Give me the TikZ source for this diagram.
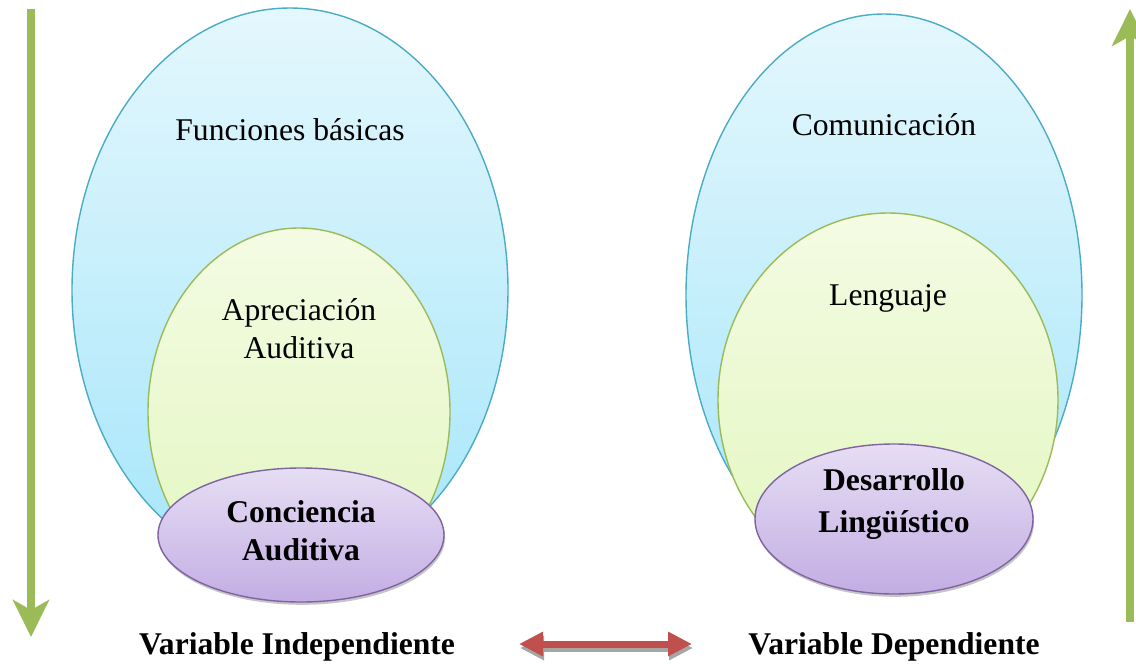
\documentclass[tikz,border=0pt]{standalone}
\usepackage{fontspec}
\setmainfont{Liberation Serif}
\usetikzlibrary{arrows.meta,shadows}
\definecolor{skyline}{HTML}{4BACC6}
\definecolor{skytop}{HTML}{E4F7FD}
\definecolor{skybot}{HTML}{A6E6FA}
\definecolor{limeline}{HTML}{9BBB59}
\definecolor{limetop}{HTML}{F4FBE3}
\definecolor{limebot}{HTML}{E2F7C0}
\definecolor{lilacline}{HTML}{8064A2}
\definecolor{lilactop}{HTML}{E6DEF4}
\definecolor{lilacbot}{HTML}{C3ADE3}
\definecolor{arrowgreen}{HTML}{9BBB59}
\definecolor{arrowred}{HTML}{C0504D}
\tikzset{
  outer/.style={draw=skyline, line width=0.8pt, top color=skytop, bottom color=skybot},
  inner/.style={draw=limeline, line width=0.8pt, top color=limetop, bottom color=limebot},
  core/.style={draw=lilacline, line width=0.8pt, top color=lilactop, bottom color=lilacbot,
    drop shadow={shadow xshift=0.6pt, shadow yshift=-1.6pt, opacity=0.45}},
  label/.style={align=center},
  corelabel/.style={align=center, font=\fontsize{18}{21.6}\selectfont\bfseries},
  varlabel/.style={font=\fontsize{18}{21.6}\selectfont\bfseries},
  green arrow/.style={draw=arrowgreen, line width=0.17cm,
    -{Stealth[length=0.74cm, width=0.72cm, inset=0.2cm]}},
  red arrow/.style={draw=arrowred, line width=0.14cm,
    {Triangle[length=0.48cm, width=0.46cm]}-{Triangle[length=0.48cm, width=0.46cm]}}
}
\begin{document}
\begin{tikzpicture}[x=0.02cm, y=-0.02cm, font=\fontsize{18}{21.6}\selectfont]
  \useasboundingbox (0,0) rectangle (1136,666);
  % left side
  \draw[outer] (290,290) ellipse [x radius=218, y radius=282];
  \draw[inner] (299,412) ellipse [x radius=151, y radius=184];
  \draw[core] (301,535) ellipse [x radius=143, y radius=67];
  \node[label] (basicas) at (290,130) {Funciones básicas};
  \node[label] (apreciacion) at (299,329) {Apreciación\\Auditiva};
  \node[corelabel] (conciencia) at (301,531) {Conciencia\\Auditiva};
  % right side
  \draw[outer] (884,295) ellipse [x radius=198, y radius=281];
  \draw[inner] (888,400) ellipse [x radius=170, y radius=187];
  \draw[core] (894,519) ellipse [x radius=139, y radius=75];
  \node[label] (comunicacion) at (884,125) {Comunicación};
  \node[label] (lenguaje) at (888,298) {Lenguaje};
  \node[corelabel] (desarrollo) at (894,504) {Desarrollo\\[2pt]Lingüístico};
  % variables
  \node[varlabel] (indep) at (297,647) {Variable Independiente};
  \node[varlabel] (dep) at (894,647) {Variable Dependiente};
  % arrows
  \coordinate (downstart) at (31,9);
  \coordinate (downend) at (31,637);
  \coordinate (upstart) at (1130,622);
  \coordinate (upend) at (1130,9);
  \coordinate (linkleft) at (519,644);
  \coordinate (linkright) at (692,644);
  \draw[green arrow] (downstart) -- (downend);
  \draw[green arrow] (upstart) -- (upend);
  \draw[red arrow, draw=black!35] ([shift={(1,4)}]linkleft) -- ([shift={(1,4)}]linkright);
  \draw[red arrow] (linkleft) -- (linkright);
\end{tikzpicture}
\end{document}
